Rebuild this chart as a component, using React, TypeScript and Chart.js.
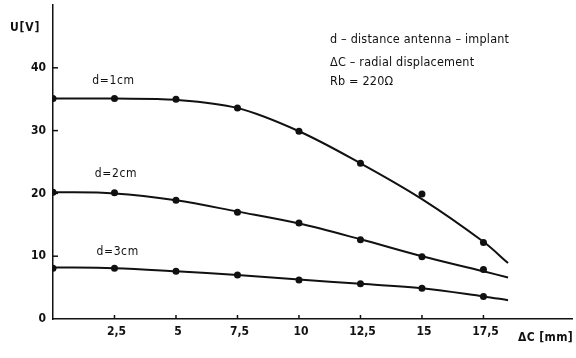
import React, { useEffect, useRef } from "react";
import { Chart, registerables } from "chart.js";

Chart.register(...registerables);

// Measured points (ΔC in mm, U in V)
const xPositions = [0, 2.5, 5, 7.5, 10, 12.5, 15, 17.5];
const u1cm = [35.1, 35.1, 35.0, 33.6, 29.9, 24.8, 19.9, 12.2];
const u2cm = [20.2, 20.1, 18.9, 17.0, 15.3, 12.6, 9.9, 7.9];
const u3cm = [8.1, 8.1, 7.6, 7.0, 6.2, 5.6, 4.9, 3.6];

// Fitted curves
const fitX = [0, 2.5, 5, 7.5, 10, 12.5, 15, 17.5, 18.5];
const fit1cm = [35.1, 35.1, 34.9, 33.6, 29.9, 24.8, 19.1, 12.3, 8.9];
const fit2cm = [20.2, 20.0, 18.9, 17.1, 15.2, 12.7, 10.0, 7.6, 6.6];
const fit3cm = [8.2, 8.1, 7.6, 7.0, 6.3, 5.6, 4.9, 3.6, 3.0];

const xTickValues = [2.5, 5, 7.5, 10, 12.5, 15, 17.5];
const xTickLabels = ["2,5", "5", "7,5", "10", "12,5", "15", "17,5"];
const yTickValues = [0, 10, 20, 30, 40];
const yTickLabels = ["0", "10", "20", "30", "40"];

const curveLabels = ["d=1cm", "d=2cm", "d=3cm"];
const curveLabelPos = [
  [1.6, 37.9],
  [1.7, 23.1],
  [1.77, 10.75],
];
const legendLines = [
  "d – distance antenna – implant",
  "ΔC – radial displacement",
  "Rb = 220Ω",
];
const yTitle = "U[V]";
const xTitle = "ΔC [mm]";

const FONT = "'DejaVu Sans Condensed', 'DejaVu Sans', sans-serif";
const INK = "#111";

const toXY = (xs: number[], ys: number[]) => xs.map((x, i) => ({ x, y: ys[i] }));

const setFont = (ctx: any, f: string, spacing: string) => {
  ctx.font = f;
  ctx.fontStretch = "condensed";
  ctx.letterSpacing = spacing;
};

const decorPlugin = {
  id: "decor",
  afterDraw(chart: any) {
    const { ctx, chartArea, scales } = chart;
    const xs = scales.x;
    const ys = scales.y;
    ctx.save();
    ctx.strokeStyle = INK;
    ctx.lineWidth = 1.5;
    // inward tick marks
    xTickValues.forEach((v) => {
      const px = xs.getPixelForValue(v);
      ctx.beginPath();
      ctx.moveTo(px, chartArea.bottom);
      ctx.lineTo(px, chartArea.bottom - 4);
      ctx.stroke();
    });
    yTickValues.forEach((v) => {
      if (v === 0) return;
      const py = ys.getPixelForValue(v);
      ctx.beginPath();
      ctx.moveTo(chartArea.left, py);
      ctx.lineTo(chartArea.left + 5, py);
      ctx.stroke();
    });

    ctx.fillStyle = INK;
    // tick labels
    setFont(ctx, `bold 12px ${FONT}`, "0px");
    ctx.textBaseline = "middle";
    ctx.textAlign = "center";
    xTickValues.forEach((v, i) => {
      ctx.fillText(xTickLabels[i], xs.getPixelForValue(v) + 2, chartArea.bottom + 13);
    });
    ctx.textAlign = "right";
    yTickValues.forEach((v, i) => {
      ctx.fillText(yTickLabels[i], chartArea.left - 7, ys.getPixelForValue(v));
    });

    // axis titles
    ctx.textAlign = "left";
    setFont(ctx, `bold 12px ${FONT}`, "0.8px");
    ctx.fillText(yTitle, 10, 28);
    setFont(ctx, `bold 12px ${FONT}`, "0.4px");
    ctx.fillText(xTitle, 518, 338);

    // curve labels
    setFont(ctx, `12px ${FONT}`, "0.6px");
    curveLabels.forEach((t, i) => {
      const [vx, vy] = curveLabelPos[i];
      ctx.fillText(t, xs.getPixelForValue(vx), ys.getPixelForValue(vy));
    });

    // explanation block
    setFont(ctx, `12.5px ${FONT}`, "0.2px");
    const lineY = [40, 63, 81.5];
    legendLines.forEach((t, i) => ctx.fillText(t, 330, lineY[i]));
    ctx.restore();
  },
};

export default function App() {
  const ref = useRef<HTMLCanvasElement | null>(null);

  useEffect(() => {
    if (!ref.current) return;
    const lineDs = (ys: number[]) => ({
      type: "scatter" as const,
      data: toXY(fitX, ys),
      showLine: true,
      borderColor: INK,
      borderWidth: 2,
      pointRadius: 0,
      tension: 0.35,
      fill: false,
    });
    const pointDs = (ys: number[]) => ({
      type: "scatter" as const,
      data: toXY(xPositions, ys),
      showLine: false,
      pointRadius: 3.5,
      pointBackgroundColor: INK,
      pointBorderColor: INK,
      pointBorderWidth: 0,
    });
    const chart = new Chart(ref.current, {
      type: "scatter",
      data: {
        datasets: [
          lineDs(fit1cm),
          lineDs(fit2cm),
          lineDs(fit3cm),
          pointDs(u1cm),
          pointDs(u2cm),
          pointDs(u3cm),
        ],
      },
      options: {
        responsive: false,
        animation: false,
        layout: { padding: { top: 5, left: 0, right: 0, bottom: 0 } },
        plugins: {
          legend: { display: false },
          tooltip: { enabled: false },
          title: { display: false },
        },
        scales: {
          x: {
            type: "linear",
            min: 0,
            max: 21.1,
            grid: { display: false, drawTicks: false },
            border: { display: true, color: INK, width: 1.5 },
            afterBuildTicks: (s: any) => {
              s.ticks = xTickValues.map((v) => ({ value: v }));
            },
            afterFit: (s: any) => {
              s.height = 39;
            },
            ticks: { display: false },
          },
          y: {
            type: "linear",
            min: 0,
            max: 50,
            grid: { display: false, drawTicks: false },
            border: { display: true, color: INK, width: 1.5 },
            afterBuildTicks: (s: any) => {
              s.ticks = yTickValues.map((v) => ({ value: v }));
            },
            afterFit: (s: any) => {
              s.width = 53;
            },
            ticks: { display: false },
          },
        },
      },
      plugins: [decorPlugin],
    } as any);
    return () => chart.destroy();
  }, []);

  return (
    <div style={{ position: "absolute", left: 0, top: 0, width: 576, height: 358, background: "#fff" }}>
      <canvas ref={ref} width={576} height={358} style={{ display: "block" }} />
    </div>
  );
}
